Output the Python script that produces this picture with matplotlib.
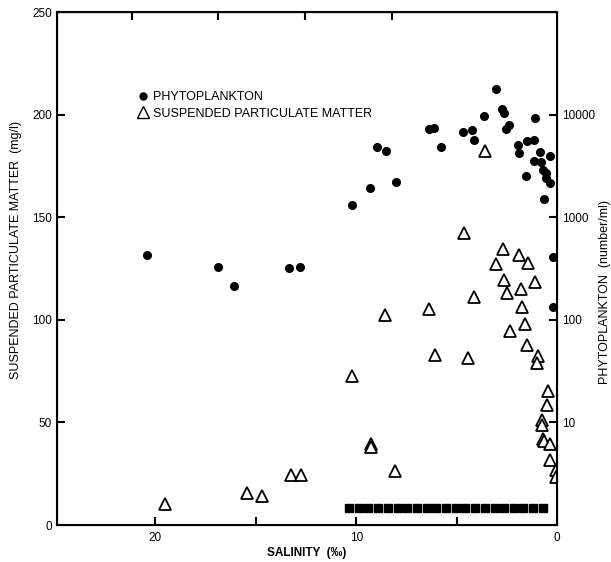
import numpy as np
import matplotlib.pyplot as plt
from matplotlib.lines import Line2D

plt.rcParams['font.family'] = ['Liberation Sans', 'DejaVu Sans']

# phytoplankton: salinity (per mille) and cells (number/ml)
phyto_sal = [20.4, 16.86, 16.11, 13.37, 12.82, 10.22, 9.33, 8.98, 8.53, 8.03,
             6.38, 6.13, 5.79, 4.69, 4.24, 4.14, 3.64, 3.04, 2.74, 2.64,
             2.54, 2.39, 1.95, 1.90, 1.50, 1.55, 1.15, 1.10, 1.15, 0.85,
             0.80, 0.70, 0.55, 0.55, 0.35, 0.35, 0.65, 0.20, 0.20]
phyto_num = [430, 330, 215, 322, 330, 1318, 1923, 4830, 4406, 2208,
             7211, 7380, 4830, 6730, 7045, 5650, 9640, 17620, 11270, 10320,
             7210, 7870, 5040, 4210, 5520, 2520, 5650, 9250, 3530, 4310,
             3450, 2880, 2690, 2410, 2160, 3940, 1507, 411, 134]

# suspended particulate matter: salinity and mg/l
spm_sal = [19.5, 15.43, 14.68, 13.27, 12.75, 10.21, 9.26, 9.26, 8.08, 8.58,
           6.37, 4.64, 6.10, 4.44, 4.15, 3.58, 2.68, 3.03, 1.88, 1.45,
           2.63, 2.49, 1.81, 1.11, 1.73, 1.61, 2.36, 1.51, 0.93, 1.01,
           0.46, 0.50, 0.76, 0.73, 0.68, 0.63, 0.33, 0.35, 0.06, 0.06]
spm_val = [10.2, 15.7, 14.1, 24.3, 24.3, 72.5, 39.4, 37.8, 26.2, 102.5,
           105.3, 142.2, 83.1, 81.5, 111.1, 182.2, 134.4, 127.3, 131.7, 127.8,
           119.2, 113.2, 114.8, 118.2, 106.1, 98.2, 94.4, 87.5, 82.6, 78.9,
           65.3, 58.3, 51.0, 48.6, 42.1, 41.0, 39.4, 31.9, 27.0, 23.5]

# row of filled squares along the bottom
bar_sal = [10.35, 9.87, 9.39, 8.90, 8.42, 7.94, 7.46, 6.97, 6.49, 6.01, 5.53,
           5.04, 4.56, 4.08, 3.60, 3.11, 2.63, 2.15, 1.67, 1.18, 0.70]
bar_val = [8.4] * len(bar_sal)

x_ticks = [20, 15, 10, 5, 0]
x_labels = ['20', '', '10', '', '0']
top_ticks = [21.15, 16.9, 12.57, 8.23]
spm_ticks = [0, 50, 100, 150, 200, 250]
phyto_ticks = [10, 100, 1000, 10000]

fig = plt.figure(figsize=(6.11, 5.62), dpi=100)
ax = fig.add_axes([0.0933, 0.0658, 0.8183, 0.9128])

ax.plot(spm_sal, spm_val, linestyle='none', marker='^', markersize=9,
        markerfacecolor='white', markeredgecolor='black', markeredgewidth=1.3)
ax.plot(bar_sal, bar_val, linestyle='none', marker='s', markersize=5.5,
        color='black')

ax.set_xlim(24.9, 0)
ax.set_ylim(0, 250)
ax.set_xticks(x_ticks)
ax.set_xticklabels(x_labels)
ax.set_yticks(spm_ticks)
ax.tick_params(direction='in', length=6, width=1.5, labelsize=8.5)
ax.tick_params(axis='x', pad=5)
for sp in ax.spines.values():
    sp.set_linewidth(1.5)

top = ax.secondary_xaxis('top')
top.set_xticks(top_ticks)
top.set_xticklabels([])
top.tick_params(direction='in', length=6, width=1.5)

ax2 = ax.twinx()
ax2.set_yscale('log')
ax2.set_ylim(1, 1e5)
ax2.plot(phyto_sal, phyto_num, linestyle='none', marker='o', markersize=5.5,
         color='black')
ax2.set_yticks(phyto_ticks)
ax2.set_yticklabels([str(t) for t in phyto_ticks])
ax2.yaxis.set_minor_locator(plt.NullLocator())
ax2.tick_params(direction='in', length=6, width=1.5, labelsize=8.5)

ax.set_xlabel('SALINITY  (‰)', fontsize=8.5, fontweight='bold', labelpad=2)
fig.text(0.026, 0.555, 'SUSPENDED PARTICULATE MATTER  (mg/l)', rotation=90,
         ha='center', va='center', fontsize=9)
fig.text(0.99, 0.48, 'PHYTOPLANKTON  (number/ml)', rotation=90,
         ha='center', va='center', fontsize=9)

handles = [
    Line2D([], [], linestyle='none', marker='o', markersize=5, color='black'),
    Line2D([], [], linestyle='none', marker='^', markersize=8,
           markerfacecolor='white', markeredgecolor='black'),
]
ax.legend(handles, ['PHYTOPLANKTON', 'SUSPENDED PARTICULATE MATTER'],
          loc='upper left', bbox_to_anchor=(0.149, 0.855), frameon=False,
          fontsize=9, handletextpad=0.3, handlelength=1.0, labelspacing=0.35,
          borderaxespad=0)

fig.savefig('out.png', dpi=100)
